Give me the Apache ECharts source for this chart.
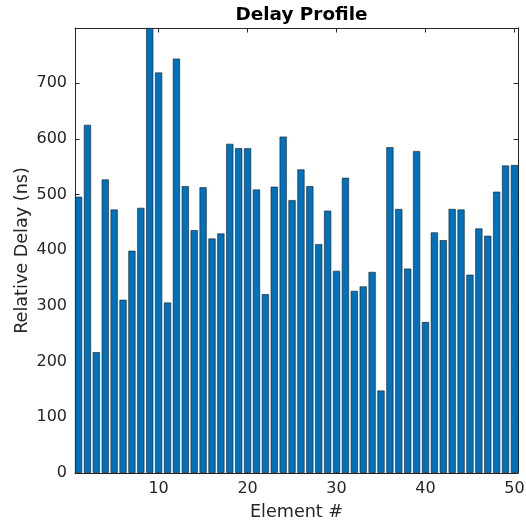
<!DOCTYPE html>
<html>
<head>
<meta charset="utf-8">
<script src="https://cdn.jsdelivr.net/npm/echarts@6/dist/echarts.min.js"></script>
<style>
html,body{margin:0;padding:0;background:#fff;}
#chart{width:526px;height:523px;}
</style>
</head>
<body>
<div id="chart"></div>
<script>
// ---- data ----
var elements = [1,2,3,4,5,6,7,8,9,10,11,12,13,14,15,16,17,18,19,20,21,22,23,24,25,26,27,28,29,30,31,32,33,34,35,36,37,38,39,40,41,42,43,44,45,46,47,48,49,50];
var delays = [496,625,217,527,473,311,399,476,799,719,306,744,515,436,513,421,430,591,583,583,509,321,514,604,490,545,515,411,471,363,530,327,335,361,148,585,474,367,578,271,432,418,474,473,356,439,426,505,552,553];
var xTicks = [10,20,30,40,50];
var yTicks = [0,100,200,300,400,500,600,700];

// ---- layout ----
var gridLeft = 75, gridRight = 8, gridTop = 28, gridBottom = 50;
var W = 526;
var xMin = 0.6, xMax = 50.4;
var yMin = 0, yMax = Math.max.apply(null, delays);
var pxPerUnit = (W - gridLeft - gridRight) / (xMax - xMin);

var font = 'DejaVu Sans';
var txt = '#262626';
var axisCol = '#262626';

var pairs = elements.map(function(e, i){ return [e, delays[i]]; });

function xAx(pos, labels){
  return {
    type: 'value', position: pos, min: xMin, max: xMax,
    axisLine: {show: true, onZero: false, lineStyle: {color: axisCol, width: 1}},
    axisTick: {show: true, inside: true, length: 4.5, customValues: xTicks, lineStyle: {color: axisCol}},
    axisLabel: {show: labels, customValues: xTicks, color: txt, fontFamily: font, fontSize: 16, margin: 8},
    splitLine: {show: false},
    name: labels ? 'Element #' : '', nameLocation: 'middle', nameGap: 30, nameMoveOverlap: false,
    nameTextStyle: {color: txt, fontFamily: font, fontSize: 17.6}
  };
}
function yAx(pos, labels){
  return {
    type: 'value', position: pos, min: yMin, max: yMax,
    axisLine: {show: true, onZero: false, lineStyle: {color: axisCol, width: 1}},
    axisTick: {show: true, inside: true, length: 4.5, customValues: yTicks, lineStyle: {color: axisCol}},
    axisLabel: {show: labels, customValues: yTicks, color: txt, fontFamily: font, fontSize: 16, margin: 8},
    splitLine: {show: false},
    name: labels ? 'Relative Delay (ns)' : '', nameLocation: 'middle', nameGap: 44, nameMoveOverlap: false,
    nameTextStyle: {color: txt, fontFamily: font, fontSize: 17.6}
  };
}

var chart = echarts.init(document.getElementById('chart'), null, {renderer: 'canvas'});
chart.setOption({
  animation: false,
  backgroundColor: '#ffffff',
  title: {
    text: 'Delay Profile', left: (gridLeft + W - gridRight) / 2, textAlign: 'center', top: 1,
    textStyle: {fontFamily: font, fontWeight: 'bold', fontSize: 18.4, color: '#000'}
  },
  grid: {left: gridLeft, right: gridRight, top: gridTop, bottom: gridBottom, containLabel: false, outerBoundsMode: 'none'},
  xAxis: [xAx('bottom', true), xAx('top', false)],
  yAxis: [yAx('left', true), yAx('right', false)],
  series: [{
    type: 'bar', xAxisIndex: 0, yAxisIndex: 0,
    data: pairs,
    barWidth: 0.8 * pxPerUnit,
    itemStyle: {color: '#0072BD', borderColor: '#1a1a1a', borderWidth: 0.6}
  }]
});
</script>
</body>
</html>
